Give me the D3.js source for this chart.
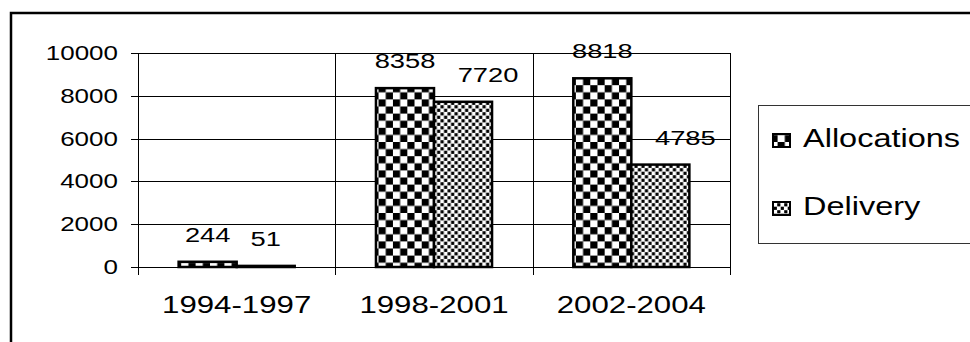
<!DOCTYPE html>
<html>
<head>
<meta charset="utf-8">
<script src="https://cdn.jsdelivr.net/npm/d3@7"></script>
<style>
  html, body { margin: 0; padding: 0; background: #fff; }
  svg { display: block; }
  text { font-family: "Liberation Sans", Arial, sans-serif; fill: #000; }
</style>
</head>
<body>
<script>
const categories = ["1994-1997", "1998-2001", "2002-2004"];
const seriesNames = ["Allocations", "Delivery"];
const allocations = [244, 8358, 8818];
const delivery = [51, 7720, 4785];
const yTicks = [0, 2000, 4000, 6000, 8000, 10000];

const W = 970, H = 342;
const SX = 1.3; // horizontal text stretch of the original image
const svg = d3.select("body").append("svg").attr("width", W).attr("height", H);

const defs = svg.append("defs");
const chk = defs.append("pattern").attr("id", "pat-Allocations")
  .attr("patternUnits", "userSpaceOnUse").attr("width", 14.4).attr("height", 14.2);
chk.append("rect").attr("width", 14.4).attr("height", 14.2).attr("fill", "#fff");
chk.append("rect").attr("x", 0).attr("y", 0).attr("width", 7.2).attr("height", 7.1).attr("fill", "#000");
chk.append("rect").attr("x", 7.2).attr("y", 7.1).attr("width", 7.2).attr("height", 7.1).attr("fill", "#000");

const dot = defs.append("pattern").attr("id", "pat-Delivery")
  .attr("patternUnits", "userSpaceOnUse").attr("width", 7).attr("height", 7);
dot.append("rect").attr("width", 7).attr("height", 7).attr("fill", "#fff");
dot.append("rect").attr("x", 0.2).attr("y", 0.2).attr("width", 3.2).attr("height", 3.2).attr("fill", "#000");
dot.append("rect").attr("x", 3.7).attr("y", 3.7).attr("width", 3.2).attr("height", 3.2).attr("fill", "#000");

// outer frame
svg.append("rect").attr("x", 11).attr("y", 13).attr("width", 1100).attr("height", 500)
  .attr("fill", "none").attr("stroke", "#000").attr("stroke-width", 2.5);

const plot = { left: 138, right: 730, top: 53, bottom: 267 };
const x0 = d3.scaleBand().domain(categories).range([plot.left, plot.right]).padding(0);
const x1 = d3.scaleBand().domain(seriesNames).range([0, x0.bandwidth()])
  .paddingInner(0).paddingOuter(0.7);
const y = d3.scaleLinear().domain([0, 10000]).range([plot.bottom, plot.top]);

function stretchedText(g, x, yy, str, size, anchor) {
  return g.append("text")
    .attr("transform", `translate(${x},${yy}) scale(${SX},1)`)
    .attr("text-anchor", anchor).attr("font-size", size).text(str);
}

// horizontal gridlines + y ticks
const grid = svg.append("g");
yTicks.forEach(t => {
  grid.append("line").attr("x1", plot.left - 7).attr("x2", plot.right)
    .attr("y1", Math.round(y(t)) + 0.5).attr("y2", Math.round(y(t)) + 0.5)
    .attr("stroke", "#000").attr("stroke-width", 1);
  stretchedText(grid, 118, y(t) + 7, d3.format("d")(t), 20, "end");
});
// vertical category boundary lines
const bounds = categories.map(c => x0(c)).concat([x0(categories[categories.length - 1]) + x0.bandwidth()]);
bounds.forEach(bx => {
  grid.append("line").attr("x1", Math.round(bx) + 0.5).attr("x2", Math.round(bx) + 0.5)
    .attr("y1", plot.top).attr("y2", plot.bottom + 8)
    .attr("stroke", "#000").attr("stroke-width", 1);
});

// bars
const rows = categories.map((c, i) => ({ cat: c, vals: [
  { s: "Allocations", v: allocations[i] },
  { s: "Delivery", v: delivery[i] }
]}));
const groups = svg.append("g").selectAll("g").data(rows).join("g")
  .attr("transform", d => `translate(${x0(d.cat)},0)`);
groups.selectAll("rect").data(d => d.vals).join("rect")
  .attr("x", d => x1(d.s))
  .attr("y", d => y(d.v))
  .attr("width", x1.bandwidth())
  .attr("height", d => y(0) - y(d.v))
  .attr("fill", d => `url(#pat-${d.s})`)
  .attr("stroke", "#000").attr("stroke-width", 2.5);

// data labels
groups.each(function(d) {
  const g = d3.select(this);
  d.vals.forEach(p => {
    // delivery labels nudged right when they would collide with the neighbouring label
    const nudge = (p.s === "Delivery" && p.v > 1000) ? 25 : 0;
    stretchedText(g, x1(p.s) + x1.bandwidth() / 2 + nudge, y(p.v) - 20, p.v, 21, "middle");
  });
});

// category labels
categories.forEach(c => {
  stretchedText(svg, x0(c) + x0.bandwidth() / 2, 313, c, 24, "middle");
});

// legend
const lg = svg.append("g");
lg.append("rect").attr("x", 758.5).attr("y", 105.5).attr("width", 400).attr("height", 138)
  .attr("fill", "#fff").attr("stroke", "#333").attr("stroke-width", 1);
seriesNames.forEach((s, i) => {
  const by = 147 + i * 68;
  lg.append("rect").attr("x", 773).attr("y", by - 13).attr("width", 17).attr("height", 13)
    .attr("fill", `url(#pat-${s})`).attr("stroke", "#000").attr("stroke-width", 2);
  stretchedText(lg, 803, by, s, 25, "start");
});
</script>
</body>
</html>
